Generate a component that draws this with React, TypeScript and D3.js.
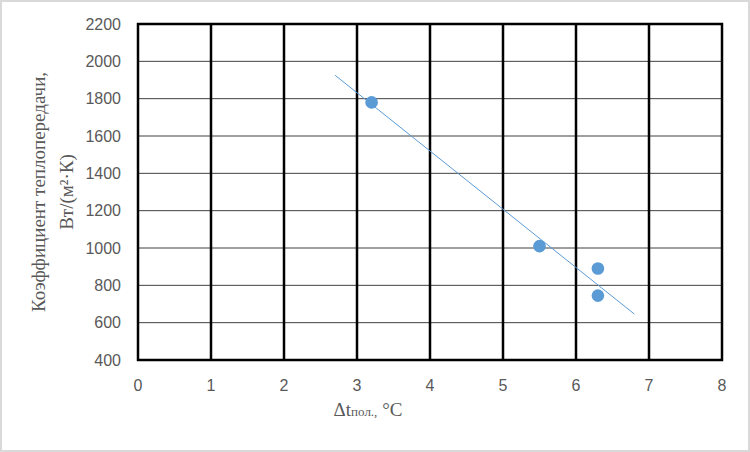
import React from "react";
import * as d3 from "d3";

const xTicks = [0, 1, 2, 3, 4, 5, 6, 7, 8];
const yTicks = [400, 600, 800, 1000, 1200, 1400, 1600, 1800, 2000, 2200];
const pointX = [3.2, 5.5, 6.3, 6.3];
const pointY = [1780, 1010, 890, 745];
const trendRange = [2.7, 6.8];

const W = 750;
const H = 452;
const L = 138, R = 722, T = 24, B = 360;
const BLUE = "#5b9bd5";
const GREY = "#595959";

export default function App() {
  const x = d3.scaleLinear().domain([0, 8]).range([L, R]);
  const y = d3.scaleLinear().domain([400, 2200]).range([B, T]);

  const mx = d3.mean(pointX)!;
  const my = d3.mean(pointY)!;
  let sxy = 0, sxx = 0;
  pointX.forEach((v, i) => {
    sxy += (v - mx) * (pointY[i] - my);
    sxx += (v - mx) * (v - mx);
  });
  const slope = sxy / sxx;
  const icpt = my - slope * mx;
  const trend = trendRange.map((v) => [v, icpt + slope * v] as [number, number]);
  const line = d3.line<[number, number]>().x((d) => x(d[0])).y((d) => y(d[1]));

  return (
    <svg width={W} height={H} style={{ position: "absolute", left: 0, top: 0 }}>
      <rect x={0} y={0} width={W} height={H} fill="#fff" />
      <rect x={1} y={1} width={W - 2} height={H - 2} fill="none" stroke="#d9d9d9" strokeWidth={2} />
      {yTicks.slice(1, -1).map((t) => (
        <line key={"h" + t} x1={L} x2={R} y1={y(t)} y2={y(t)} stroke="#404040" strokeWidth={1} />
      ))}
      {xTicks.slice(1, -1).map((t) => (
        <line key={"v" + t} x1={x(t)} x2={x(t)} y1={T} y2={B} stroke="#000" strokeWidth={2.5} />
      ))}
      <rect x={L} y={T} width={R - L} height={B - T} fill="none" stroke="#000" strokeWidth={2.5} />
      {yTicks.map((t) => (
        <text key={"yl" + t} x={121} y={y(t)} dy="0.35em" textAnchor="end" fontFamily="Liberation Sans, Arial, sans-serif" fontSize={16} fill={GREY}>
          {t}
        </text>
      ))}
      {xTicks.map((t) => (
        <text key={"xl" + t} x={x(t)} y={391} textAnchor="middle" fontFamily="Liberation Sans, Arial, sans-serif" fontSize={16} fill={GREY}>
          {t}
        </text>
      ))}
      <path d={line(trend)!} stroke={BLUE} strokeWidth={1} fill="none" />
      {pointX.map((v, i) => (
        <circle key={"p" + i} cx={x(v)} cy={y(pointY[i])} r={6.3} fill={BLUE} />
      ))}
      <g transform="translate(45,192) rotate(-90)" fontFamily="Liberation Serif, Times New Roman, serif" fontSize={19} fill={GREY}>
        <text x={0} y={0} textAnchor="middle">Коэффициент теплопередачи,</text>
        <text x={0} y={28} textAnchor="middle">Вт/(м²·К)</text>
      </g>
      <text x={368} y={416} textAnchor="middle" fontFamily="Liberation Serif, Times New Roman, serif" fontSize={19} fill={GREY}>
        Δt<tspan fontSize={13}>пол.,</tspan> °C
      </text>
    </svg>
  );
}
